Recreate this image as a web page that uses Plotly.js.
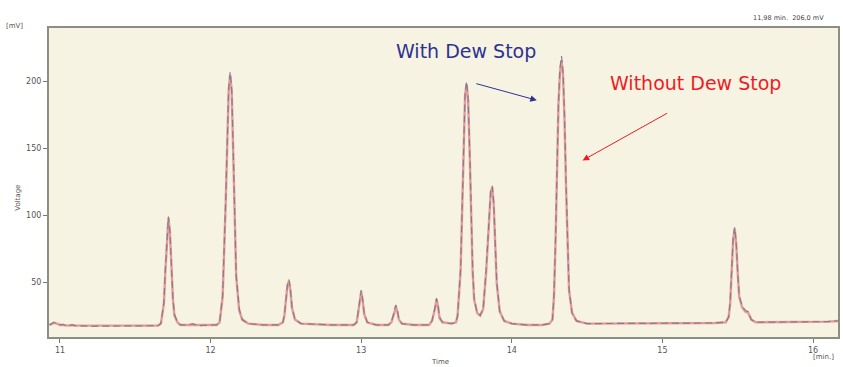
<!DOCTYPE html>
<html><head><meta charset="utf-8">
<script src="https://cdn.plot.ly/plotly-3.0.1.min.js"></script>
<style>html,body{margin:0;padding:0;background:#fff}#c{width:843px;height:367px}</style>
</head><body><div id="c"></div>
<script>
// retention time (min)
var timeMin = [10.93,10.96,10.98,11.0,11.02,11.05,11.08,11.1,11.2,11.4,11.6,11.65,
 11.67,11.69,11.70,11.71,11.72,11.73,11.74,11.75,11.76,11.78,11.80,11.85,11.88,11.92,12.0,12.04,
 12.06,12.08,12.10,12.11,12.12,12.13,12.14,12.15,12.16,12.17,12.19,12.21,12.25,12.35,12.45,12.48,
 12.49,12.50,12.51,12.52,12.53,12.54,12.56,12.60,12.8,12.95,
 12.97,12.98,12.99,13.0,13.01,13.02,13.04,13.1,13.18,
 13.20,13.22,13.23,13.24,13.25,13.27,13.35,13.45,
 13.47,13.49,13.50,13.51,13.52,13.54,13.6,13.63,
 13.64,13.66,13.67,13.68,13.69,13.70,13.71,13.72,13.73,13.74,13.75,13.77,13.79,
 13.81,13.83,13.85,13.86,13.87,13.88,13.89,13.90,13.92,13.95,14.0,14.1,14.2,14.25,
 14.27,14.28,14.29,14.30,14.31,14.32,14.33,14.34,14.35,14.36,14.37,14.38,14.40,14.43,14.5,14.7,15.0,15.2,15.35,15.42,
 15.44,15.45,15.46,15.47,15.48,15.49,15.50,15.51,15.53,15.55,15.57,15.59,15.62,15.7,15.9,16.1,16.17];
// With Dew Stop (mV)
var withDewStop = [18,20,19,18,18.5,17,18,17.5,17,17,17,17.5,
 19,35,60,85,99,88,60,38,26,20,18,18,19,17.5,18,18,
 20,40,110,160,195,207,195,150,95,55,30,22,19,18,18,20,
 25,38,48,52,45,32,22,19,18,18,
 20,28,38,44,37,27,20,18,18,
 20,28,33,29,23,19,18,18,
 21,31,38,33,24,20,19,20,
 25,60,110,165,192,200,188,150,100,60,38,27,25,
 30,60,105,118,122,110,80,50,28,21,19,18,18,19,
 22,40,80,140,185,210,219,208,175,125,75,45,27,21,19,19,19,19,19.5,20,
 24,35,60,83,91,80,58,40,32,29,28,22,20,20,20,20.5,21];
// Without Dew Stop (mV)
var withoutDewStop = [18,19.5,19,18,18,17.5,18,17.5,17.5,17.5,17,17.5,
 19,34,59,84,98,87,59,37,25,20,18,18,18.5,18,18,18,
 20,39,108,158,193,205,193,148,93,54,29,22,19,18,18,20,
 25,37,47,51,44,31,22,19,18,18,
 20,27,37,43,36,26,20,18,18,
 20,27,32,28,22,19,18,18,
 21,30,37,32,23,20,19,20,
 25,58,108,163,190,198,186,148,98,58,37,27,25,
 30,58,103,117,121,108,78,49,28,21,19,18,18,19,
 22,39,78,138,183,207,216,205,172,122,73,44,27,21,19,19,19,19,19.5,20,
 24,34,59,82,90,79,57,39,31,28,27,22,20,20,20,20.5,21];
var yTicks = [50,100,150,200];
var xTicks = [11,12,13,14,15,16];

var traces = [
 {x: timeMin, y: withoutDewStop, mode:'lines', name:'Without Dew Stop',
  line:{color:'#e69a98', width:2.4}, hoverinfo:'skip'},
 {x: timeMin, y: withDewStop, mode:'lines', name:'With Dew Stop',
  line:{color:'#857c8e', width:1.2, dash:'7px,4px'}, hoverinfo:'skip'}
];
var tf = {family:'DejaVu Sans, sans-serif', size:8, color:'#555'};
var layout = {
 width:843, height:367, showlegend:false,
 margin:{l:49, r:5, t:28, b:30},
 paper_bgcolor:'#ffffff', plot_bgcolor:'#f6f3e2',
 xaxis:{range:[10.927,16.166], tickvals:xTicks, ticktext:xTicks.map(String),
  ticks:'outside', ticklen:4, tickcolor:'#777', showgrid:false, zeroline:false,
  showline:true, linecolor:'#8a8f80', linewidth:2, mirror:true, tickfont:tf},
 yaxis:{range:[9,240], tickvals:yTicks, ticktext:yTicks.map(String),
  ticks:'outside', ticklen:4, tickcolor:'#777', showgrid:false, zeroline:false,
  showline:true, linecolor:'#8a8f80', linewidth:2, mirror:true, tickfont:tf},
 annotations:[
  {xref:'paper', yref:'paper', x:-0.03, y:1.0, xanchor:'right', yanchor:'bottom', yshift:-4,
   text:'[mV]', showarrow:false, font:{family:'DejaVu Sans, sans-serif', size:7, color:'#555'}},
  {xref:'paper', yref:'paper', x:-0.047, y:0.45, textangle:-90,
   text:'Voltage', showarrow:false, font:{family:'DejaVu Sans, sans-serif', size:7, color:'#555'}},
  {xref:'paper', yref:'paper', x:0.495, y:0, yanchor:'top', yshift:-19,
   text:'Time', showarrow:false, font:{family:'DejaVu Sans, sans-serif', size:7, color:'#555'}},
  {xref:'paper', yref:'paper', x:0.997, y:0, yanchor:'top', yshift:-14,
   text:'[min.]', showarrow:false, font:{family:'DejaVu Sans, sans-serif', size:7, color:'#555'}},
  {xref:'paper', yref:'paper', x:0.985, y:1, yanchor:'bottom', xanchor:'right', yshift:4,
   text:'11,98 min.  206,0 mV', showarrow:false, font:{family:'DejaVu Sans, sans-serif', size:6.5, color:'#444'}},
  {xref:'x', yref:'y', x:13.695, y:223, text:'With Dew Stop', showarrow:false,
   font:{family:'DejaVu Sans, Verdana, sans-serif', size:19, color:'#2e3192'}},
  {xref:'x', yref:'y', x:15.22, y:199, text:'Without Dew Stop', showarrow:false,
   font:{family:'DejaVu Sans, Verdana, sans-serif', size:19, color:'#ed1c24'}},
  {xref:'x', yref:'y', x:14.166, y:186, ax:-62, ay:-17, text:'', showarrow:true,
   arrowhead:2, arrowsize:1.3, arrowwidth:1, arrowcolor:'#2e3192'},
  {xref:'x', yref:'y', x:14.47, y:141, ax:86, ay:-48, text:'', showarrow:true,
   arrowhead:2, arrowsize:1.3, arrowwidth:1, arrowcolor:'#ed1c24'}
 ]
};
Plotly.newPlot('c', traces, layout, {displayModeBar:false, staticPlot:true});
</script></body></html>
